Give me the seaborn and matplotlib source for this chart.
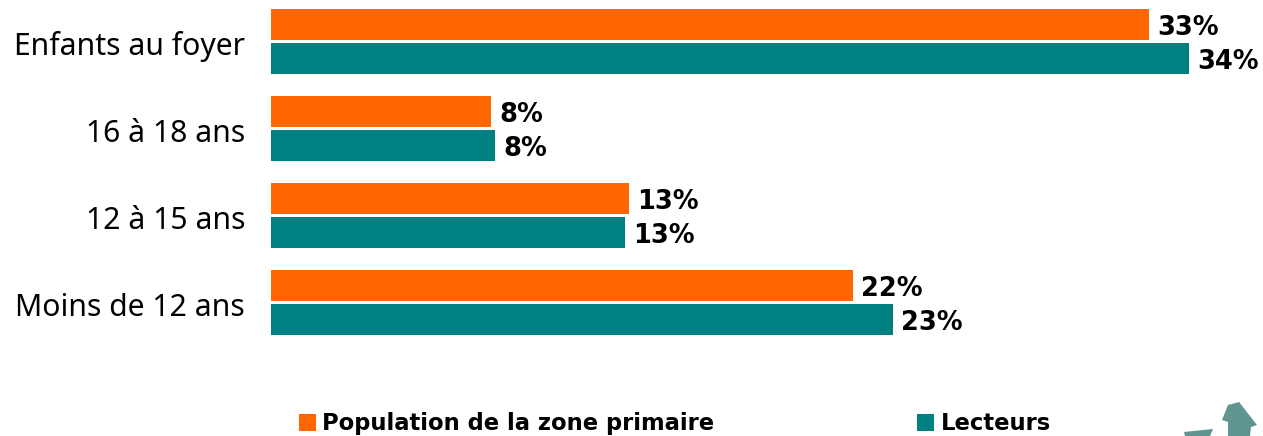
import matplotlib
matplotlib.use('Agg')
import matplotlib.pyplot as plt
from matplotlib.transforms import ScaledTranslation
import pandas as pd
import seaborn as sns

categories = ['Enfants au foyer', '16 à 18 ans', '12 à 15 ans', 'Moins de 12 ans']
population = [32.5, 8.15, 13.26, 21.55]
lecteurs = [34.0, 8.3, 13.1, 23.04]
pop_labels = ['33%', '8%', '13%', '22%']
lec_labels = ['34%', '8%', '13%', '23%']
series_names = ['Population de la zone primaire', 'Lecteurs']
colors = ['#ff6600', '#008080']

sns.set_style('white')
plt.rcParams['font.family'] = ['Noto Sans', 'DejaVu Sans']
plt.rcParams['text.color'] = 'black'

df = pd.DataFrame({'cat': categories, series_names[0]: population, series_names[1]: lecteurs})
df = df.melt(id_vars='cat', var_name='serie', value_name='val')

W, H = 1263, 436
fig = plt.figure(figsize=(W / 100, H / 100), dpi=100)
ax = fig.add_axes([271 / W, 1 - 346 / H, (W - 271) / W, 346 / H])
sns.barplot(data=df, y='cat', x='val', hue='serie', order=categories, hue_order=series_names,
            palette=colors, gap=0.087, width=0.78, saturation=1, linewidth=0, legend=False, ax=ax)
ax.set_xlim(0, 992 / 27)
ax.set_ylim(3.5, -41.5 / 87)
ax.set_xlabel('')
ax.set_ylabel('')
ax.set_xticks([])
ax.tick_params(axis='y', length=0, pad=18.7, labelsize=21.7, labelcolor='black')
sns.despine(ax=ax, left=True, bottom=True)

# les libelles sont un peu plus bas que le centre des groupes
for lab in ax.get_yticklabels():
    lab.set_transform(lab.get_transform() + ScaledTranslation(0, -2 / 100, fig.dpi_scale_trans))

for cont, labs in zip(ax.containers, [pop_labels, lec_labels]):
    texts = ax.bar_label(cont, labels=labs, padding=6, fontsize=18.5, fontweight='bold', color='black',
                         family='DejaVu Sans')
    for t in texts:
        t.xyann = (t.xyann[0], t.xyann[1] - 2.2)

# legende faite a la main pour garder les positions de l'original
for x0, col in zip([299, 917], colors):
    fig.add_artist(plt.Rectangle((x0 / W, 1 - 431 / H), 17 / W, 17 / H, color=col, lw=0, transform=fig.transFigure))
for x0, name in zip([322, 941], series_names):
    fig.text(x0 / W, 1 - 421 / H, name, fontsize=16.3, fontweight='bold', va='center_baseline', color='black',
             family='DejaVu Sans')

# petite maison en bas a droite
roof = [(1228, 405), (1239, 402), (1257, 425), (1251, 427), (1250, 436), (1228, 436), (1228, 422), (1222, 420)]
base = [(1184, 432), (1213, 429), (1210, 436), (1185, 436)]
for poly in [roof, base]:
    fig.add_artist(plt.Polygon([(x / W, 1 - y / H) for x, y in poly], color='#5f9490', lw=0, transform=fig.transFigure))

fig.savefig('out.png', dpi=100)
